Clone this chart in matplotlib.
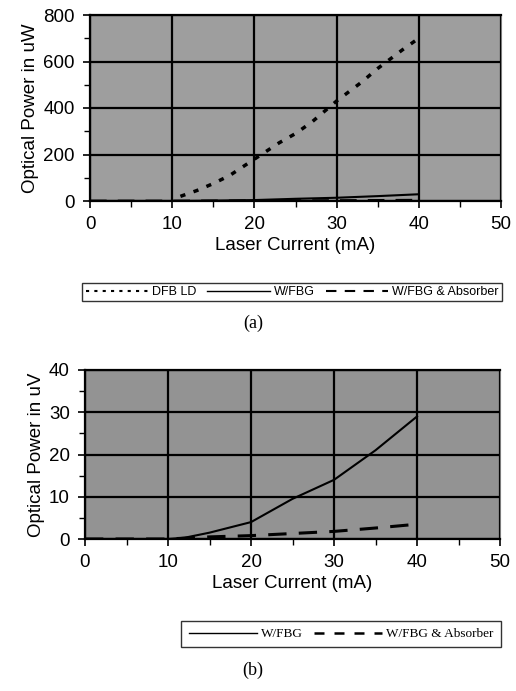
import matplotlib
matplotlib.use("Agg")
import matplotlib.pyplot as plt
from matplotlib.lines import Line2D
import numpy as np

# ---- data (a) ----
dfb_x = [11, 13, 15, 17, 20, 23, 25, 27, 30, 33, 35, 38, 40]
dfb_y = [20, 45, 75, 110, 180, 250, 290, 340, 430, 510, 570, 650, 700]

fbg_x = [0, 5, 10, 12, 15, 20, 25, 30, 35, 40]
fbg_y = [0, 0, 0, 0.3, 1.5, 4, 9.5, 14, 21, 29]

abs_x = [0, 5, 10, 15, 20, 25, 30, 35, 40]
abs_y = [0, 0, 0, 0.5, 0.8, 1.3, 1.8, 2.6, 3.5]

xticks = [0, 10, 20, 30, 40, 50]
yticks_a = [0, 200, 400, 600, 800]
yticks_b = [0, 10, 20, 30, 40]

SANS = ['Liberation Sans', 'DejaVu Sans']
SERIF = ['Liberation Serif', 'DejaVu Serif']

fig = plt.figure(figsize=(5.16, 6.91), dpi=100)
W, H = 516, 691

def ax_rect(l, r, t, b):
    return [l / W, 1 - b / H, (r - l) / W, (b - t) / H]

def style(ax, yticks, yminor):
    ax.set_facecolor('#9e9e9e')
    ax.set_xlim(0, 50)
    ax.set_ylim(yticks[0], yticks[-1])
    ax.set_xticks(xticks)
    ax.set_yticks(yticks)
    ax.set_xticks(np.arange(0, 51, 5), minor=True)
    ax.set_yticks(yminor, minor=True)
    ax.grid(True, which='major', color='black', linewidth=1.6)
    ax.set_axisbelow(True)
    ax.tick_params(which='major', direction='out', length=5, width=1.2, labelsize=13.5, pad=6)
    ax.tick_params(which='minor', direction='out', length=4, width=1.0)
    for lab in ax.get_xticklabels() + ax.get_yticklabels():
        lab.set_family(SANS)
    for s in ['left', 'bottom', 'top']:
        ax.spines[s].set_color('black')
        ax.spines[s].set_linewidth(1.6)
    ax.spines['right'].set_color('#7a7a7a')
    ax.set_xlabel('Laser Current (mA)', fontsize=13.5, family=SANS, labelpad=3)

# ---- panel (a) ----
ax1 = fig.add_axes(ax_rect(90, 501, 15, 201))
style(ax1, yticks_a, np.arange(0, 801, 100))
ax1.set_ylabel('Optical Power in uW', fontsize=13.5, family=SANS, labelpad=3)
ax1.plot(dfb_x, dfb_y, color='black', linestyle=(0, (1.5, 2.5)), linewidth=2.5)
ax1.plot(fbg_x, fbg_y, color='black', linestyle='-', linewidth=1.5)
ax1.plot(abs_x, abs_y, color='black', linestyle=(0, (6, 4)), linewidth=2)

handles_a = [
    Line2D([], [], color='black', linestyle=(0, (1.5, 2.5)), linewidth=1.5),
    Line2D([], [], color='black', linestyle='-', linewidth=1.0),
    Line2D([], [], color='black', linestyle=(0, (5, 4)), linewidth=1.5),
]
leg1 = fig.legend(handles_a, ['DFB LD', 'W/FBG', 'W/FBG & Absorber'],
                  ncol=3, loc='center', bbox_to_anchor=(292 / W, 1 - 292 / H),
                  prop={'family': SANS, 'size': 9}, frameon=True, fancybox=False,
                  edgecolor='black', handlelength=5, columnspacing=0.9,
                  handletextpad=0.3, borderpad=0.25)
leg1.get_frame().set_linewidth(1.0)
fig.text(253 / W, 1 - 323 / H, '(a)', ha='center', va='center', fontsize=13, family=SERIF)

# ---- panel (b) ----
ax2 = fig.add_axes(ax_rect(85, 500, 370, 539))
style(ax2, yticks_b, np.arange(0, 41, 5))
ax2.set_facecolor('#939393')
ax2.set_ylabel('Optical Power in uV', fontsize=13.5, family=SANS, labelpad=3)
ax2.plot(fbg_x, fbg_y, color='black', linestyle='-', linewidth=1.5)
ax2.plot(abs_x, abs_y, color='black', linestyle=(0, (6, 4)), linewidth=2.2)

handles_b = [
    Line2D([], [], color='black', linestyle='-', linewidth=1.0),
    Line2D([], [], color='black', linestyle=(0, (4, 4)), linewidth=1.8),
]
leg2 = fig.legend(handles_b, ['W/FBG', 'W/FBG & Absorber'],
                  ncol=2, loc='center', bbox_to_anchor=(341 / W, 1 - 634 / H),
                  prop={'family': SERIF, 'size': 9.5}, frameon=True,
                  fancybox=False, edgecolor='black', handlelength=5.2, columnspacing=0.8,
                  handletextpad=0.3, borderpad=0.55)
leg2.get_frame().set_linewidth(1.0)
fig.text(253 / W, 1 - 670 / H, '(b)', ha='center', va='center', fontsize=13, family=SERIF)

fig.savefig('out.png', dpi=100)
